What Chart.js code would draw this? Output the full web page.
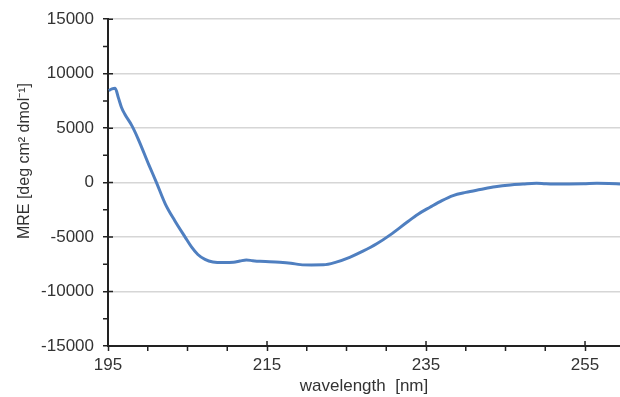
<!DOCTYPE html>
<html>
<head>
<meta charset="utf-8">
<script src="https://cdn.jsdelivr.net/npm/chart.js@4.4.1/dist/chart.umd.min.js"></script>
<style>
    html, body { margin: 0; padding: 0; background: #fff; }
    #wrap { width: 620px; height: 397px; }
</style>
</head>
<body>
<div id="wrap"><canvas id="cd-chart"></canvas></div>
<script>
// CD spectrum
const wavelengths = [195.1, 195.5, 195.9, 196.3, 196.7, 197.1, 198.0, 198.8, 200.1, 201.1,
    202.2, 203.4, 204.7, 205.5, 206.3, 207.2, 208.2, 209.5, 210.8, 211.6,
    212.4, 213.2, 214.1, 215.3, 216.6, 218.0, 219.2, 220.6, 222.1, 223.7,
    225.4, 227.0, 228.8, 230.5, 232.6, 234.0, 235.5, 237.0, 238.4, 240.0,
    241.8, 243.7, 245.6, 247.2, 248.9, 250.0, 251.0, 253.0, 254.8, 256.5,
    258.0, 259.4];
const mre = [8450, 8600, 8650, 7800, 6900, 6300, 5230, 4000, 1700, 0,
    -1950, -3500, -5000, -5900, -6600, -7050, -7280, -7330, -7310, -7200,
    -7100, -7170, -7230, -7260, -7310, -7400, -7530, -7560, -7550, -7300,
    -6860, -6320, -5620, -4800, -3640, -2900, -2260, -1650, -1190, -900,
    -640, -380, -210, -130, -60, -100, -120, -120, -110, -60,
    -80, -120];

const xTicks = [195, 215, 235, 255];
const xMinorTicks = [200, 205, 210, 220, 225, 230, 240, 245, 250];
const yTicks = [-15000, -10000, -5000, 0, 5000, 10000, 15000];
const yMinorTicks = [-12500, -7500, -2500, 2500, 7500, 12500];

const yTitle = "MRE [deg cm\u00B2 dmol\u207B\u00B9]";
const axisColor = "#222";
const textColor = "#333";

// minor ticks, inner half of major ticks, and the offset y title
const tickPlugin = {
    id: "tickPlugin",
    afterDraw(chart) {
        const ctx = chart.ctx;
        const xs = chart.scales.x;
        const ys = chart.scales.y;
        const area = chart.chartArea;
        ctx.save();
        ctx.strokeStyle = axisColor;
        ctx.lineWidth = 1.5;
        ctx.beginPath();
        xMinorTicks.forEach(v => {
            const px = xs.getPixelForValue(v);
            ctx.moveTo(px, area.bottom);
            ctx.lineTo(px, area.bottom + 5);
        });
        xTicks.forEach(v => {
            const px = xs.getPixelForValue(v);
            ctx.moveTo(px, area.bottom);
            ctx.lineTo(px, area.bottom - 5);
        });
        yMinorTicks.forEach(v => {
            const py = ys.getPixelForValue(v);
            ctx.moveTo(area.left, py);
            ctx.lineTo(area.left - 5, py);
        });
        yTicks.forEach(v => {
            const py = ys.getPixelForValue(v);
            ctx.moveTo(area.left, py);
            ctx.lineTo(area.left + 5, py);
        });
        ctx.stroke();

        ctx.translate(25, 161);
        ctx.rotate(-Math.PI / 2);
        ctx.fillStyle = textColor;
        ctx.font = "16px 'Liberation Sans', Arial, sans-serif";
        ctx.textAlign = "center";
        ctx.textBaseline = "middle";
        ctx.fillText(yTitle, 0, 0);
        ctx.restore();
    }
};

const ctx = document.getElementById("cd-chart").getContext("2d");
new Chart(ctx, {
    type: "line",
    data: {
        datasets: [{
            data: wavelengths.map((w, i) => ({ x: w, y: mre[i] })),
            borderColor: "#4f7fc0",
            borderWidth: 3,
            pointRadius: 0,
            cubicInterpolationMode: "monotone",
            fill: false
        }]
    },
    options: {
        responsive: true,
        maintainAspectRatio: false,
        animation: false,
        layout: { padding: { top: 19, right: 0, bottom: 0, left: 0 } },
        plugins: {
            legend: { display: false },
            tooltip: { enabled: false }
        },
        scales: {
            x: {
                type: "linear",
                min: 195,
                max: 259.4,
                afterBuildTicks: scale => { scale.ticks = xTicks.map(v => ({ value: v })); },
                afterFit: scale => { scale.height = 51; },
                grid: {
                    drawOnChartArea: false,
                    tickLength: 5,
                    tickColor: axisColor,
                    tickWidth: 1.5
                },
                border: { display: true, color: axisColor, width: 2 },
                ticks: {
                    color: textColor,
                    padding: 4,
                    maxRotation: 0,
                    font: { family: "'Liberation Sans', Arial, sans-serif", size: 17 },
                    callback: v => String(v)
                },
                title: {
                    display: true,
                    text: "wavelength  [nm]",
                    color: textColor,
                    padding: { top: 0, bottom: 0 },
                    font: { family: "'Liberation Sans', Arial, sans-serif", size: 17 }
                }
            },
            y: {
                min: -15000,
                max: 15000,
                afterBuildTicks: scale => { scale.ticks = yTicks.map(v => ({ value: v })); },
                afterFit: scale => { scale.width = 108; },
                grid: {
                    color: c => (c.tick && c.tick.value === -15000) ? "rgba(0,0,0,0)" : "#d6d6d6",
                    lineWidth: 1.5,
                    tickLength: 5,
                    tickColor: axisColor,
                    tickWidth: 1.5
                },
                border: { display: true, color: axisColor, width: 2 },
                ticks: {
                    color: textColor,
                    padding: 9,
                    font: { family: "'Liberation Sans', Arial, sans-serif", size: 17 },
                    callback: v => String(v)
                }
            }
        }
    },
    plugins: [tickPlugin]
});
</script>
</body>
</html>
